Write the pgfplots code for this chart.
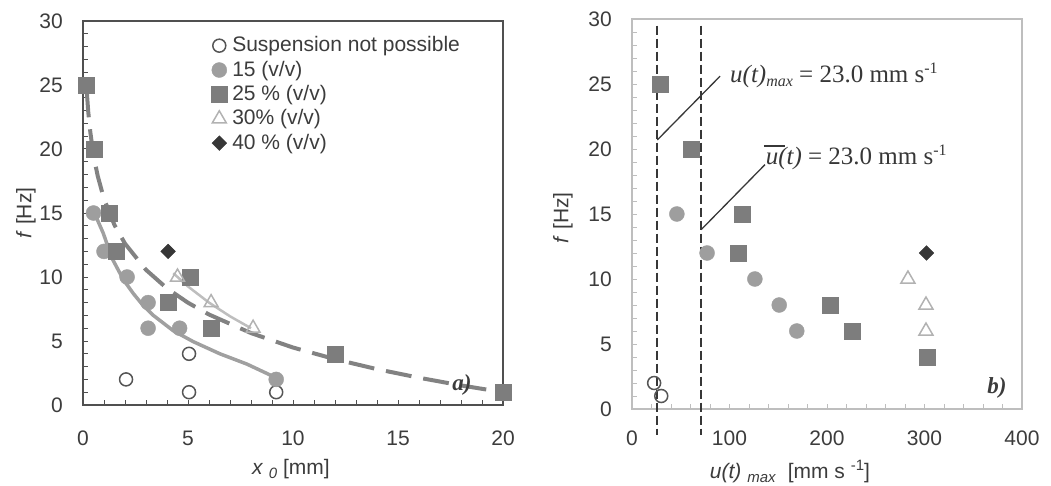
\documentclass[border=0pt]{standalone}
\usepackage{fontspec}
\setmainfont{Liberation Sans}
\newfontfamily\tnr{Liberation Serif}
\usepackage{pgfplots}
\pgfplotsset{compat=1.18}
\definecolor{cOpen}{RGB}{85,85,85}
\definecolor{c15}{RGB}{158,158,158}
\definecolor{c25}{RGB}{125,125,125}
\definecolor{c30}{RGB}{178,178,178}
\definecolor{c40}{RGB}{55,55,55}
\definecolor{l15}{RGB}{160,160,160}
\definecolor{l25}{RGB}{130,130,130}
\definecolor{l30}{RGB}{190,190,190}
\definecolor{axL}{RGB}{80,80,80}
\definecolor{axR}{RGB}{190,190,190}
\definecolor{labc}{RGB}{60,60,60}
\pgfplotsset{
  lgm/.style={legend image code/.code={\draw[mark repeat=2,mark phase=2,##1] plot coordinates {(0pt,0pt) (7pt,0pt) (14pt,0pt)};}},
  mOpen/.style={only marks, mark=o, mark size=6.5pt, mark options={draw=cOpen, line width=1.5pt}, lgm},
  m15/.style={only marks, mark=*, mark size=7.5pt, mark options={draw=c15, fill=c15}, lgm},
  m25/.style={only marks, mark=square*, mark size=8pt, mark options={draw=c25, fill=c25}, lgm},
  m30/.style={only marks, mark=triangle, mark size=8pt, mark options={draw=c30, line width=1.5pt}, lgm},
  m40/.style={only marks, mark=square*, mark size=5.2pt, mark options={draw=c40, fill=c40, rotate=45}, lgm},
  every axis/.append style={
    scale only axis, anchor=south west, ymin=0, ymax=30,
    ytick={0,5,...,30}, minor y tick num=4,
    tick align=inside, xtick pos=left, ytick pos=left,
    major tick length=5pt, minor tick length=5pt,
    clip=false,
    tick label style={font=\fontsize{21}{25}\selectfont, text=labc, /pgf/number format/assume math mode=true},
    label style={font=\fontsize{21}{25}\selectfont, text=labc},
    yticklabel style={inner xsep=0pt, xshift=-20pt},
  },
}
\begin{document}
\fontsize{21}{25}\selectfont
\begin{tikzpicture}[x=1pt,y=1pt]
\useasboundingbox (0,0) rectangle (1051,485);
% ---------------- left panel ----------------
\begin{axis}[
  at={(83pt,80pt)}, width=420pt, height=384pt,
  xmin=0, xmax=20, xtick={0,5,...,20}, minor x tick num=4,
  axis line style={draw=axL, line width=2pt},
  tick style={draw=axL, line width=1pt},
  xticklabel style={inner ysep=0pt, yshift=-26pt},
  xlabel={\textit{x} \raisebox{-4pt}{\fontsize{15}{15}\selectfont\textit{0}} [mm]},
  xlabel style={at={(axis description cs:0.495,-0.168)}, anchor=center},
  ylabel={\textit{f} [Hz]},
  ylabel style={at={(axis description cs:-0.136,0.5)}, anchor=center},
  legend style={at={(rel axis cs:0.305,0.968)}, anchor=north west, draw=none, fill=none,
    font=\fontsize{21}{25}\selectfont, text=labc, row sep=0pt, inner sep=0pt,
    nodes={inner ysep=3pt, inner xsep=5pt}},
  legend cell align=left,
]
% fitted curves
\addplot[forget plot, draw=l15, line width=3.5pt] coordinates {
 (0.5,15.2) (0.73,14.3) (0.97,13.4) (1.37,11.5) (1.92,9.8) (2.4,8.7) (2.85,7.8)
 (3.35,7.0) (4.3,5.8) (5.25,4.95) (6.52,4.0) (7.8,3.2) (9.1,2.2)};
\addplot[forget plot, draw=l25, line width=4pt, dash pattern=on 26pt off 12pt] coordinates {
 (0.18,24.5) (0.25,22.9) (0.35,21.3) (0.5,19.5) (0.7,17.9) (1,16.1) (1.5,14.06)
 (2,12.61) (3,10.56) (4,9.11) (5,7.99) (6,7.07) (8,5.62) (10,4.49) (12,3.58)
 (14,2.8) (16,2.13) (18,1.53) (20,1.0)};
\addplot[forget plot, draw=l30, line width=2.5pt] coordinates {
 (4.3,10.3) (5,9.26) (6,8.0) (7,6.93) (8,6.0)};
% data
\addplot[mOpen] coordinates {(2.05,2) (5.05,4) (5.05,1) (9.2,1)};
\addplot[m15] coordinates {(0.5,15) (1,12) (2.1,10) (3.1,8) (3.1,6) (4.6,6) (9.2,2)};
\addplot[m25] coordinates {(0.15,25) (0.55,20) (1.25,15) (1.6,12) (5.1,10) (4.05,8) (6.1,6) (12,4) (20,1)};
\addplot[m30] coordinates {(4.5,10) (6.1,8) (8.1,6)};
\addplot[m40] coordinates {(4.05,12)};
\legend{Suspension not possible, 15 (v/v), 25 \% (v/v), 30\% (v/v), 40 \% (v/v)}
\node[font=\tnr\bfseries\itshape\fontsize{23}{23}\selectfont, text=labc] at (axis cs:18.05,1.56) {a)};
\end{axis}
% ---------------- right panel ----------------
\begin{axis}[
  at={(632pt,76pt)}, width=390pt, height=390pt,
  xmin=0, xmax=400, xtick={0,100,...,400}, minor x tick num=4,
  axis line style={draw=axR, line width=1.2pt},
  tick style={draw=axR, line width=1pt},
  xticklabel style={inner ysep=0pt, yshift=-22pt},
  xlabel={\textit{u(t)} \raisebox{-4pt}{\fontsize{15}{15}\selectfont\textit{max}}\ \ [mm s \raisebox{8pt}{\fontsize{15}{15}\selectfont -1}]},
  xlabel style={at={(axis description cs:0.405,-0.16)}, anchor=center},
  ylabel={\textit{f} [Hz]},
  ylabel style={at={(axis description cs:-0.177,0.49)}, anchor=center},
]
\draw[draw=c40, line width=2pt, dash pattern=on 9pt off 4pt] (axis cs:26,29.5) -- (axis cs:26,-2);
\draw[draw=c40, line width=2pt, dash pattern=on 9pt off 4pt] (axis cs:71,29.5) -- (axis cs:71,-2);
\addplot[mOpen] coordinates {(22.7,2) (30,1)};
\addplot[m15] coordinates {(46,15) (77,12) (126,10) (151,8) (169,6)};
\addplot[m25] coordinates {(29,25) (61,20) (113,15) (109,12) (203,8) (226,6) (303,4)};
\addplot[m30] coordinates {(283,10) (301.5,8) (301.5,6)};
\addplot[m40] coordinates {(302,12)};
\draw[draw=c40, line width=1.3pt] (axis cs:26,20.7) -- (axis cs:90.3,25.6);
\draw[draw=c40, line width=1.3pt] (axis cs:71,13.8) -- (axis cs:136.4,18.8);
\node[anchor=base west, inner sep=0pt, text=c40, font=\tnr\fontsize{25}{25}\selectfont] at (axis cs:100.5,25.1)
  {\textit{u(t)}\raisebox{-4pt}{\fontsize{16}{16}\selectfont\textit{max}} = 23.0 mm s\raisebox{9pt}{\fontsize{16}{16}\selectfont -1}};
\node[anchor=base west, inner sep=0pt, text=c40, font=\tnr\fontsize{25}{25}\selectfont] at (axis cs:137,18.8)
  {\hspace{-2pt}\makebox[0pt][l]{\raisebox{18pt}{\rule{21pt}{1.3pt}}}\hspace{2pt}\textit{u(t)} = 23.0 mm s\raisebox{9pt}{\fontsize{16}{16}\selectfont -1}};
\node[font=\tnr\bfseries\itshape\fontsize{23}{23}\selectfont, text=labc] at (axis cs:374.4,1.6) {b)};
\end{axis}
\end{tikzpicture}
\end{document}
